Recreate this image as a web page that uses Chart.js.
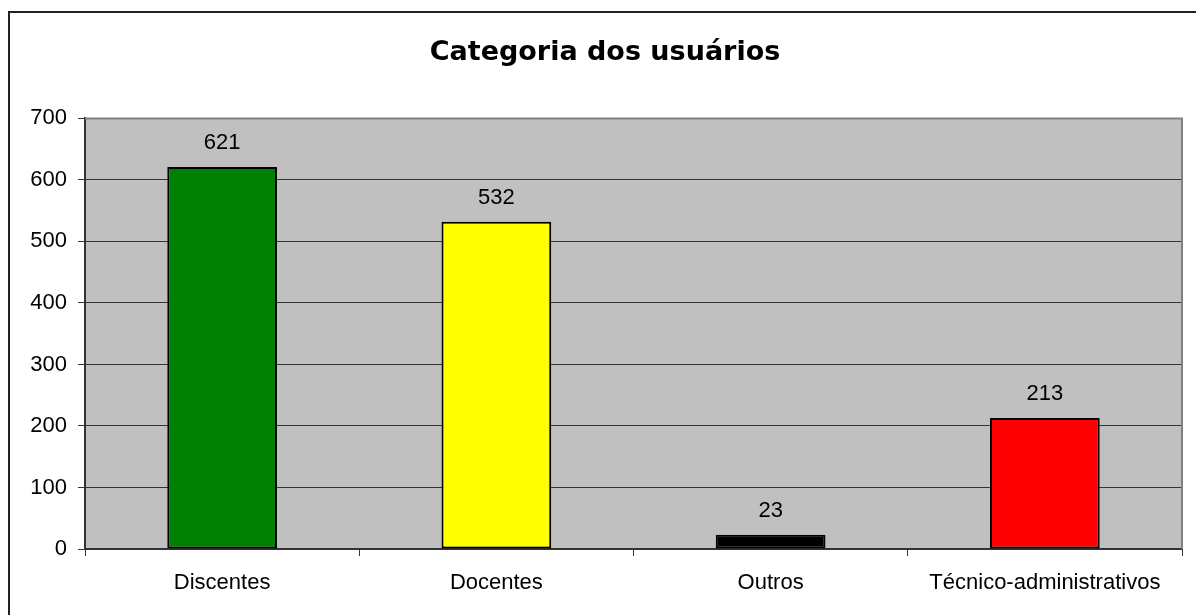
<!DOCTYPE html>
<html>
<head>
<meta charset="utf-8">
<script src="https://cdn.jsdelivr.net/npm/chart.js@4"></script>
<style>
  html, body { margin: 0; padding: 0; background: #ffffff; }
  #wrap { width: 1196px; height: 615px; }
</style>
</head>
<body>
<div id="wrap"><canvas id="bar_chart" width="1196" height="615"></canvas></div>
<script>
// data
var categorias = ["Discentes", "Docentes", "Outros", "Técnico-administrativos"];
var usuarios = [621, 532, 23, 213];
var cores = ["#008000", "#FFFF00", "#000000", "#FF0000"];
var yTicks = [0, 100, 200, 300, 400, 500, 600, 700];

// grey plot area, outer frame and the value labels
var fundo = {
    id: 'fundo',
    beforeDraw: function (chart) {
        var c = chart.ctx, a = chart.chartArea;
        c.save();
        c.fillStyle = '#ffffff';
        c.fillRect(0, 0, chart.width, chart.height);
        c.strokeStyle = '#222222';
        c.lineWidth = 2;
        c.strokeRect(9, 12, chart.width + 20, chart.height + 20);
        c.fillStyle = '#C0C0C0';
        c.fillRect(a.left, a.top, a.right - a.left, a.bottom - a.top);
        c.restore();
    },
    afterDatasetsDraw: function (chart) {
        var c = chart.ctx, a = chart.chartArea;
        c.save();
        c.strokeStyle = '#808080';
        c.lineWidth = 2;
        c.beginPath();
        c.moveTo(a.left, a.top);
        c.lineTo(a.right, a.top);
        c.lineTo(a.right, a.bottom);
        c.stroke();
        c.fillStyle = '#000000';
        c.font = '22px "Liberation Sans", Arial, sans-serif';
        c.textAlign = 'center';
        c.textBaseline = 'middle';
        chart.getDatasetMeta(0).data.forEach(function (bar, i) {
            c.fillText(usuarios[i], bar.x, bar.y - 24);
        });
        c.restore();
    }
};

var ctx = document.getElementById("bar_chart");
var myChart = new Chart(ctx, {
    type: 'bar',
    data: {
        labels: categorias,
        datasets: [{
            data: usuarios,
            backgroundColor: cores,
            borderColor: '#000000',
            borderWidth: 2,
            borderSkipped: false,
            barPercentage: 0.4,
            categoryPercentage: 1.0
        }]
    },
    plugins: [fundo],
    options: {
        responsive: false,
        animation: false,
        layout: {
            padding: { left: 28, right: 14, top: 0, bottom: 0 }
        },
        plugins: {
            legend: { display: false },
            tooltip: { enabled: false },
            title: {
                display: true,
                text: 'Categoria dos usuários',
                color: '#000000',
                font: { family: '"DejaVu Sans", Verdana, sans-serif', size: 27, weight: 'bold', lineHeight: 1.2 },
                padding: { top: 37, bottom: 49 }
            }
        },
        scales: {
            x: {
                offset: true,
                afterFit: function (scale) { scale.height = 66; },
                grid: {
                    display: true,
                    offset: true,
                    drawOnChartArea: false,
                    drawTicks: true,
                    tickLength: 7,
                    color: '#333333'
                },
                border: { color: '#333333', width: 2 },
                ticks: {
                    color: '#000000',
                    padding: 14,
                    maxRotation: 0,
                    font: { family: '"Liberation Sans", Arial, sans-serif', size: 22 }
                }
            },
            y: {
                min: 0,
                max: 700,
                afterFit: function (scale) { scale.width = 57; },
                afterBuildTicks: function (scale) {
                    scale.ticks = yTicks.map(function (v) { return { value: v }; });
                },
                grid: {
                    color: '#333333',
                    lineWidth: 1,
                    drawTicks: true,
                    tickLength: 7
                },
                border: { color: '#333333', width: 2 },
                ticks: {
                    color: '#000000',
                    padding: 11,
                    font: { family: '"Liberation Sans", Arial, sans-serif', size: 22 }
                }
            }
        }
    }
});
</script>
</body>
</html>
